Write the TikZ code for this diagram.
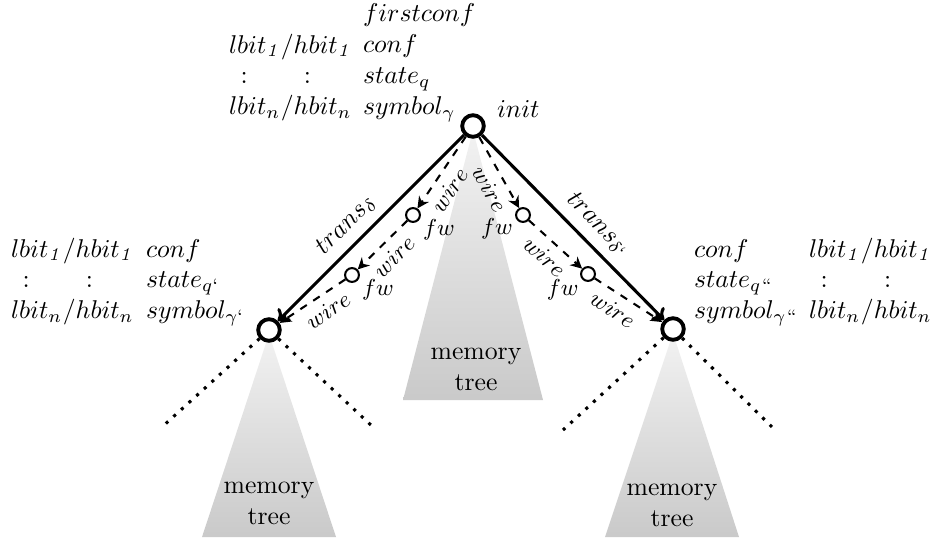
\documentclass[tikz,border=0pt]{standalone}
\usetikzlibrary{arrows.meta}
\renewcommand{\arraystretch}{1.0}
\begin{document}
\begin{tikzpicture}[thick, x=0.389pt, y=-0.389pt,
	confnode/.style={circle, draw, line width=1.5pt, fill=white, minimum size=8.4pt, inner sep=0pt},
	fwnode/.style={circle, draw, thick, fill=white, minimum size=5.4pt, inner sep=0pt},
	fwlabel/.style={font=\small, inner sep=0.5pt},
	transarrow/.style={-{To[length=4pt, width=7pt]}, very thick},
	wirearrow/.style={-{Stealth[length=4.5pt, width=4.5pt]}, thick, dashed},
	wirelabel/.style={font=\small, sloped, below, inner sep=3pt},
	dotline/.style={line width=1.2pt, dash pattern=on 1.2pt off 2.8pt},
	memtree/.style={top color=gray!10, bottom color=gray!42},
	txtblock/.style={anchor=base west, inner sep=0pt}]
	\useasboundingbox (0,0) rectangle (935,544);
	
	%memory trees
	\shade[memtree] (473,130) -- (403,400) -- (543,400) -- cycle;
	\shade[memtree] (269,334) -- (202,537) -- (336,537) -- cycle;
	\shade[memtree] (673,333) -- (605,537) -- (739,537) -- cycle;
	\node[align=center] (midmem) at (476,369) {memory\\tree};
	\node[align=center] (leftmem) at (269,503) {memory\\tree};
	\node[align=center] (rightmem) at (672,505) {memory\\tree};
	
	%configurations
	\node[confnode] (root) at (473,126) {};
	\node[confnode] (left) at (269,330) {};
	\node[confnode] (right) at (673,329) {};
	\node[txtblock] (initname) at (496,117) {$init$};
	
	\node[txtblock] (topconf) at (362,22) {\begin{tabular}[t]{@{}l@{}}
			$firstconf$\\ $conf$\\ $state_q$\\ $symbol_\gamma$
		\end{tabular}};
	\node[txtblock] (topbits) at (228,53) {\begin{tabular}[t]{@{}l@{}l@{}}
			$lbit_{\mathit{1}}$ & $/hbit_{\mathit{1}}$\\
			\hspace{4.5pt}$:$ & \hspace{9pt}$:$\\
			$lbit_n$ & $/hbit_n$
		\end{tabular}};
	\node[txtblock] (leftconf) at (145,257) {\begin{tabular}[t]{@{}l@{}}
			$conf$\\ $state_{q`}$\\ $symbol_{\gamma`}$
		\end{tabular}};
	\node[txtblock] (leftbits) at (10,257) {\begin{tabular}[t]{@{}l@{}l@{}}
			$lbit_{\mathit{1}}$ & $/hbit_{\mathit{1}}$\\
			\hspace{4.5pt}$:$ & \hspace{9pt}$:$\\
			$lbit_n$ & $/hbit_n$
		\end{tabular}};
	\node[txtblock] (rightconf) at (693,257) {\begin{tabular}[t]{@{}l@{}}
			$conf$\\ $state_{q``}$\\ $symbol_{\gamma``}$
		\end{tabular}};
	\node[txtblock] (rightbits) at (808,257) {\begin{tabular}[t]{@{}l@{}l@{}}
			$lbit_{\mathit{1}}$ & $/hbit_{\mathit{1}}$\\
			\hspace{4.5pt}$:$ & \hspace{9pt}$:$\\
			$lbit_n$ & $/hbit_n$
		\end{tabular}};
	
	%forwarders
	\node[fwnode, label={[fwlabel]-15:$fw$}] (fwa) at (413,215) {};
	\node[fwnode, label={[fwlabel]-15:$fw$}] (fwb) at (352,275) {};
	\node[fwnode, label={[fwlabel]190:$fw$}] (fwc) at (523,215) {};
	\node[fwnode, label={[fwlabel]205:$fw$}] (fwd) at (588,274) {};
	
	%transitions
	\draw[transarrow] (root) -- node[pos=0.56, above, sloped] {$trans_\delta$} (left);
	\draw[transarrow] (root) -- node[pos=0.56, above, sloped] {$trans_{\delta`}$} (right);
	
	%wires
	\draw[wirearrow] (root) -- node[wirelabel, pos=0.62] {$wire$} (fwa);
	\draw[wirearrow] (fwa) -- node[wirelabel] {$wire$} (fwb);
	\draw[wirearrow] (fwb) -- node[wirelabel, pos=0.4] {$wire$} (left);
	\draw[wirearrow] (root) -- node[wirelabel, pos=0.62] {$wire$} (fwc);
	\draw[wirearrow] (fwc) -- node[wirelabel] {$wire$} (fwd);
	\draw[wirearrow] (fwd) -- node[wirelabel, pos=0.4] {$wire$} (right);
	
	%subtrees
	\foreach \c/\x/\y [count=\i] in {left/162/427, left/373/427, right/563/430, right/777/432}{
		\coordinate (dot\i) at (\x,\y);
		\draw[dotline] (\c) -- (dot\i);
	}
\end{tikzpicture}
\end{document}
